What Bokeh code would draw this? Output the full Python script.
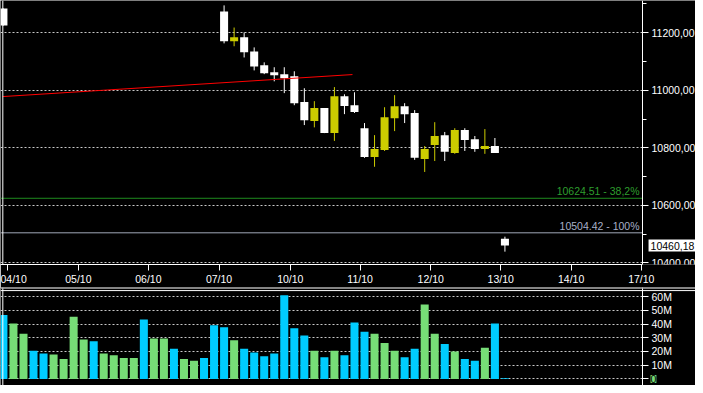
from bokeh.plotting import figure
from bokeh.models import Range1d, FixedTicker, Span, Label, ColumnDataSource
from bokeh.layouts import column
from bokeh.embed import file_html
from bokeh.resources import INLINE

# ---------------- data ----------------
candle_idx = [0, 22, 23, 24, 25, 26, 27, 28, 29, 30, 31, 32, 33, 34, 35, 36, 37, 38, 39, 40,
              41, 42, 43, 44, 45, 46, 47, 48, 49, 50]
candle_open = [11284, 11274, 11170, 11184, 11135, 11087, 11063, 11056, 11049, 10959, 10893, 10938,
               10851, 10979, 10948, 10868, 10768, 10792, 10903, 10944, 10921, 10761, 10810, 10844,
               10782, 10862, 10830, 10796, 10806, 10484]
candle_high = [11284, 11295, 11218, 11201, 11149, 11097, 11080, 11080, 11066, 11007, 10962, 10938,
               11011, 10986, 10993, 10886, 10844, 10941, 10983, 10955, 10931, 10806, 10889, 10855,
               10868, 10868, 10841, 10865, 10834, 10491]
candle_low = [11225, 11163, 11153, 11114, 11069, 11056, 11031, 10990, 10948, 10879, 10871, 10851,
              10824, 10917, 10921, 10765, 10734, 10789, 10858, 10886, 10758, 10716, 10754, 10754,
              10779, 10789, 10786, 10779, 10782, 10439]
candle_close = [11225, 11170, 11184, 11132, 11083, 11059, 11052, 11042, 10955, 10896, 10938, 10851,
                10979, 10945, 10924, 10768, 10796, 10906, 10944, 10917, 10765, 10796, 10841, 10786,
                10862, 10827, 10796, 10806, 10782, 10460.18]

volume_idx = list(range(51))
volume_m = [46.6, 40.4, 32.9, 20.6, 18.6, 17.9, 14.5, 45.2, 28.8, 27.5,
            18.6, 17.3, 15.2, 15.2, 43.2, 29.5, 29.5, 22.0, 14.5, 13.2,
            15.2, 39.1, 37.7, 28.2, 22.0, 19.3, 16.6, 18.6, 60.9, 37.0,
            31.6, 20.6, 15.9, 20.6, 17.3, 41.1, 34.3, 32.9, 26.1, 20.6,
            15.9, 22.0, 54.1, 32.9, 25.5, 20.0, 14.5, 13.2, 22.7, 40.4,
            0.5]
volume_up = [0, 1, 1, 0, 0, 1, 1, 1, 1, 0,
             1, 1, 1, 1, 0, 1, 1, 0, 1, 1,
             0, 0, 0, 1, 0, 0, 0, 0, 0, 0,
             0, 1, 0, 1, 0, 0, 0, 1, 1, 1,
             0, 0, 1, 1, 0, 1, 0, 0, 1, 0,
             0]

day_ticks = [0.45, 7.47, 14.45, 21.5, 28.6, 35.56, 42.6, 49.58, 56.6, 63.6]
day_labels = ["04/10", "05/10", "06/10", "07/10", "10/10", "11/10", "12/10", "13/10", "14/10", "17/10"]

price_ticks = [10400, 10600, 10800, 11000, 11200]
price_minor = [10500, 10700, 10900, 11100, 11300]
volume_ticks = [0, 10, 20, 30, 40, 50, 60]
volume_tick_labels = ["", "10M", "20M", "30M", "40M", "50M", "60M"]

fib_levels = [10624.51, 10504.42]
fib_texts = ["10624.51 - 38,2%", "10504.42 - 100%"]

trend_x = [-0.09, 34.8]
trend_y = [10978, 11054.5]

last_price = 10460.18
last_volume = 0
last_volume_text = "0"

# ---------------- style ----------------
FONT = "Liberation Sans"
FS = "10.5px"
BG = "black"
WHITE = "#FFFFFF"
YELLOW = "#CCCC00"
BLUE = "#00CCFF"
GREEN = "#77DD77"
GRID = "#C8C8C8"
FIB_LINE = ["#1E8C1E", "#A0A8B8"]
FIB_TEXT = ["#2E9E2E", "#A8B0C8"]

X0, X_END = -0.292, 69.0      # frame spans the whole width
AXIS_K = 63.72                # where the right-hand value axes sit
LEFT_EDGE = -0.06
P_Y0, P_Y1 = 10394.3, 11312
V_Y0, V_Y1 = -4.73, 66.55


def style_axis(ax, minor=True):
    ax.axis_line_color = WHITE
    ax.major_tick_line_color = WHITE
    ax.minor_tick_line_color = WHITE if minor else None
    ax.major_tick_in = 0
    ax.major_tick_out = 6
    ax.minor_tick_in = 0
    ax.minor_tick_out = 4
    ax.major_label_text_color = WHITE
    ax.major_label_text_font = FONT
    ax.major_label_text_font_size = FS


def limit_grid(fig, y0, y1):
    g = fig.ygrid[0]
    if "cross_bounds" in g.properties():
        g.cross_bounds = (X0, AXIS_K)
    else:
        fig.quad(left=[AXIS_K], right=[X_END], bottom=[y0], top=[y1], fill_color=BG, line_color=None)


# ---------------- main price panel ----------------
p = figure(width=695, height=287, x_range=Range1d(X0, X_END), y_range=Range1d(P_Y0, P_Y1),
           y_axis_location="right", output_backend="svg", toolbar_location=None,
           background_fill_color=BG, border_fill_color=BG,
           min_border_left=0, min_border_top=0, min_border_right=0, min_border_bottom=22)
p.outline_line_color = None
p.xgrid.visible = False

yt = FixedTicker(ticks=price_ticks, minor_ticks=price_minor)
p.yaxis.ticker = yt
p.yaxis.fixed_location = AXIS_K
p.ygrid.ticker = yt
p.ygrid.grid_line_color = GRID
p.ygrid.grid_line_dash = "2 2"
p.yaxis.major_label_overrides = {t: f"{t:.2f}".replace(".", ",") for t in price_ticks}
limit_grid(p, P_Y0, P_Y1)

xt = FixedTicker(ticks=day_ticks, minor_ticks=[])
p.xaxis.ticker = xt
p.xaxis.bounds = (X0, AXIS_K)
p.xaxis.major_label_overrides = {t: l for t, l in zip(day_ticks, day_labels)}

style_axis(p.xaxis[0])
style_axis(p.yaxis[0])
p.xaxis.major_label_standoff = 2
p.yaxis.major_label_standoff = 3

# fib levels
p.segment(x0=[X0] * len(fib_levels), y0=fib_levels, x1=[AXIS_K] * len(fib_levels), y1=fib_levels,
          line_color=FIB_LINE, line_width=1)
for lvl, txt, tc in zip(fib_levels, fib_texts, FIB_TEXT):
    p.add_layout(Label(x=AXIS_K, y=lvl, x_offset=-3, y_offset=1, text=txt, text_align="right",
                       text_baseline="bottom", text_color=tc, text_font=FONT, text_font_size=FS))

# candles
colors = [YELLOW if c >= o else WHITE for o, c in zip(candle_open, candle_close)]
src = ColumnDataSource(dict(
    x=candle_idx, high=candle_high, low=candle_low,
    top=[max(o, c) for o, c in zip(candle_open, candle_close)],
    bottom=[min(o, c) for o, c in zip(candle_open, candle_close)],
    color=colors))
p.segment(x0="x", y0="low", x1="x", y1="high", line_color="color", line_width=1, source=src)
p.vbar(x="x", width=0.8, top="top", bottom="bottom", fill_color="color", line_color=None, source=src)

# trend line
p.line(trend_x, trend_y, line_color="#FF0000", line_width=1)

p.add_layout(Span(location=LEFT_EDGE, dimension="height", line_color=WHITE, line_width=1))

# last price marker next to the axis
p.add_layout(Label(x=AXIS_K, y=last_price, x_offset=6, text=f"{last_price:.2f}".replace(".", ","),
                   text_baseline="middle", text_color="black", text_font=FONT, text_font_size=FS,
                   background_fill_color=WHITE, padding=2))

# ---------------- volume panel ----------------
v = figure(width=695, height=98, x_range=p.x_range, y_range=Range1d(V_Y0, V_Y1),
           y_axis_location="right", x_axis_location=None, output_backend="svg", toolbar_location=None,
           background_fill_color=BG, border_fill_color=BG,
           min_border_left=0, min_border_top=0, min_border_right=0, min_border_bottom=0)
v.outline_line_color = None
v.xgrid.visible = False
vt = FixedTicker(ticks=volume_ticks, minor_ticks=[])
v.yaxis.ticker = vt
v.yaxis.fixed_location = AXIS_K
v.ygrid.ticker = vt
v.ygrid.grid_line_color = GRID
v.ygrid.grid_line_dash = "2 2"
v.yaxis.major_label_overrides = {t: l for t, l in zip(volume_ticks, volume_tick_labels)}
limit_grid(v, V_Y0, V_Y1)
style_axis(v.yaxis[0], minor=False)
v.yaxis.major_label_standoff = 3

vsrc = ColumnDataSource(dict(x=volume_idx, top=volume_m,
                             color=[GREEN if u else BLUE for u in volume_up]))
v.vbar(x="x", width=0.8, top="top", bottom=0, fill_color="color", line_color=None, source=vsrc)

v.add_layout(Span(location=LEFT_EDGE, dimension="height", line_color=WHITE, line_width=1))
v.add_layout(Span(location=66.0, dimension="width", line_color="#B0B0B0", line_width=1))
v.add_layout(Span(location=64.3, dimension="width", line_color=WHITE, line_width=1))

v.add_layout(Label(x=AXIS_K, y=last_volume, x_offset=8, text=last_volume_text, text_baseline="middle",
                   text_color="black", text_font=FONT, text_font_size=FS,
                   background_fill_color=GREEN, padding=0))

layout = column(p, v, spacing=0)
open("out.html", "w").write(file_html(layout, INLINE))
